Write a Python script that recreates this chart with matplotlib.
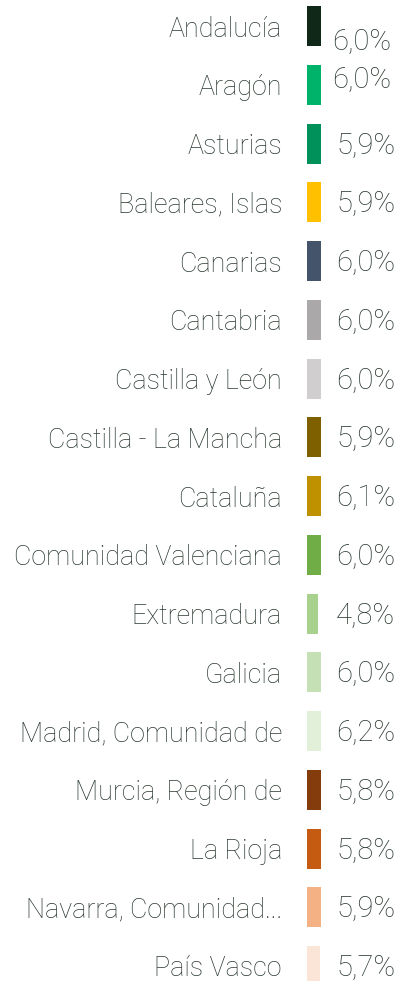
import matplotlib
matplotlib.use('Agg')
import matplotlib.pyplot as plt
from matplotlib import font_manager

regions = ['Andalucía', 'Aragón', 'Asturias', 'Baleares, Islas', 'Canarias',
           'Cantabria', 'Castilla y León', 'Castilla - La Mancha', 'Cataluña',
           'Comunidad Valenciana', 'Extremadura', 'Galicia',
           'Madrid, Comunidad de', 'Murcia, Región de', 'La Rioja',
           'Navarra, Comunidad...', 'País Vasco']
values = [6.0, 6.0, 5.9, 5.9, 6.0, 6.0, 6.0, 5.9, 6.1, 6.0, 4.8, 6.0, 6.2, 5.8, 5.8, 5.9, 5.7]
colors = ['#0f2818', '#00b36b', '#00915a', '#ffc000', '#44546a', '#aaa8a8',
          '#d0cece', '#7f6000', '#bf9000', '#70ad47', '#a9d18e', '#c5e0b4',
          '#e2f0d9', '#843c0c', '#c55a11', '#f4b183', '#fbe5d6']

text_color = '#2b3a30'
W, H, dpi = 405, 981, 100

# pick a light family if one is there
names = {(f.name, f.weight) for f in font_manager.fontManager.ttflist}
family = 'Roboto'
weight = 'light' if any(n == 'Roboto' and w in (300, 'light') for n, w in names) else 'normal'

# the first two value labels sit a little off their bars in the original
nudge = {0: (-4, -14), 1: (-4, 7)}

fig = plt.figure(figsize=(W / dpi, H / dpi), dpi=dpi)
x0 = 307
ax = fig.add_axes([x0 / W, 0, (W - x0) / W, 1])
ax.axis('off')

pitch = 58.75
top = 26
n = len(regions)
ypos = list(range(n))
ax.barh(ypos, values, height=40 / pitch, color=colors)
ax.set_xlim(0, 6.0 * (W - x0) / 14)
ax.set_ylim((H - top) / pitch, -top / pitch)

for i, (lab, v) in enumerate(zip(regions, values)):
    ax.annotate(lab, (0, i), xytext=(-25, -3), textcoords='offset pixels',
                ha='right', va='center', fontsize=19.4, family=family,
                weight=weight, color=text_color)
    dx, dy = nudge.get(i, (0, 0))
    ax.annotate('{:.1f}%'.format(v).replace('.', ','), (0, i), xytext=(29 + dx, dy - 2),
                textcoords='offset pixels', ha='left', va='center',
                fontsize=21, family=family, weight=weight, color=text_color)

fig.savefig('out.png', dpi=dpi)
